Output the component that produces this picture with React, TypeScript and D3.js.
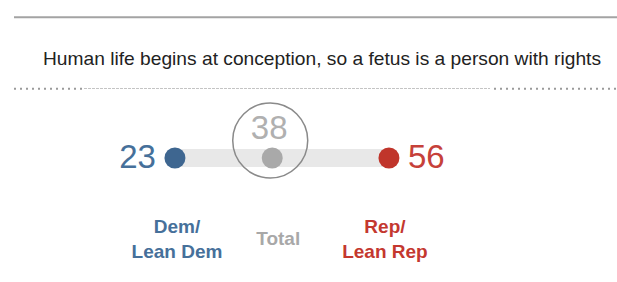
import React from "react";
import * as d3 from "d3";

const title = "Human life begins at conception, so a fetus is a person with rights";
const groupLines = [["Dem/", "Lean Dem"], ["Total"], ["Rep/", "Lean Rep"]];
const values = [23, 38, 56];
const dotColors = ["#3e6690", "#a9a9a9", "#c0352b"];
const textColors = ["#46709a", "#b0b0b0", "#c6413a"];
const labelColors = ["#46709a", "#a8a8a8", "#c4382f"];

const W = 617;
const H = 282;

export default function App() {
  const x = d3.scaleLinear().domain([0, 100]).range([25.8, 674.3]);
  const font = "'Liberation Sans', Arial, sans-serif";
  const y = 158;
  const [dem, tot, rep] = values;
  const labelOffsets = [2, 6, -4];
  return (
    <svg width={W} height={H} style={{ position: "absolute", left: 0, top: 0, background: "#fff" }}>
      <line x1={14} x2={W} y1={17.3} y2={17.3} stroke="#a3a3a3" strokeWidth={2} />
      <text x={322} y={65} textAnchor="middle" fontFamily={font} fontSize={19} fill="#222" textLength={558} lengthAdjust="spacingAndGlyphs">
        {title}
      </text>
      {/* dotted separator */}
      <line x1={14} x2={83} y1={88.7} y2={88.7} stroke="#9a9a9a" strokeWidth={2} strokeDasharray="2 4" />
      <line x1={84} x2={490} y1={88.5} y2={88.5} stroke="#c4c4c4" strokeWidth={1} strokeDasharray="3 1" />
      <line x1={494} x2={W} y1={88.7} y2={88.7} stroke="#9a9a9a" strokeWidth={2} strokeDasharray="2 4" />
      {/* bar */}
      <rect x={x(dem)} y={149} width={x(rep) - x(dem)} height={18} fill="#e8e8e8" />
      {/* total circle highlight */}
      <circle cx={x(tot) - 2} cy={140.5} r={37.5} fill="none" stroke="#8a8a8a" strokeWidth={1.5} />
      {values.map((v, i) => (
        <circle key={i} cx={x(v)} cy={y} r={10.5} fill={dotColors[i]} />
      ))}
      <text x={x(dem) - 19} y={168} textAnchor="end" fontFamily={font} fontSize={33} fill={textColors[0]}>{dem}</text>
      <text x={x(tot) - 3} y={139} textAnchor="middle" fontFamily={font} fontSize={33} fill={textColors[1]}>{tot}</text>
      <text x={x(rep) + 19} y={168} textAnchor="start" fontFamily={font} fontSize={33} fill={textColors[2]}>{rep}</text>
      {groupLines.map((lines, i) => {
        const baseY = lines.length === 1 ? 245 : 233;
        return (
          <text key={i} textAnchor="middle" fontFamily={font} fontSize={19} fontWeight="bold" fill={labelColors[i]}>
            {lines.map((l, j) => (
              <tspan key={j} x={x(values[i]) + labelOffsets[i]} y={baseY + j * 25}>{l}</tspan>
            ))}
          </text>
        );
      })}
    </svg>
  );
}
